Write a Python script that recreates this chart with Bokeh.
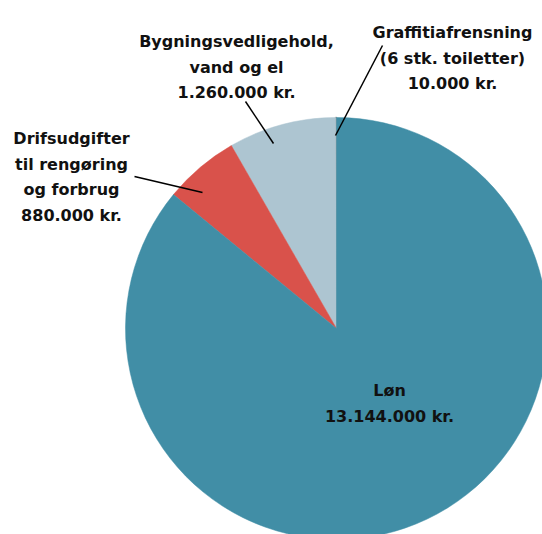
import math
from bokeh.plotting import figure
from bokeh.models import Range1d, ColumnDataSource
from bokeh.core.properties import value
from bokeh.embed import file_html
from bokeh.resources import INLINE

# ---- data ----
categories = ["Graffitiafrensning", "Bygningsvedligehold", "Drifsudgifter", "Løn"]
amounts = [10000, 1260000, 880000, 13144000]
colors = ["#a29d9b", "#adc5d1", "#d9524b", "#418ea6"]
label_lines = [
    ["Graffitiafrensning", "(6 stk. toiletter)", "10.000 kr."],
    ["Bygningsvedligehold,", "vand og el", "1.260.000 kr."],
    ["Drifsudgifter", "til rengøring", "og forbrug", "880.000 kr."],
    ["Løn", "13.144.000 kr."],
]

# ---- layout (picture pixels; y is negated) ----
W, H = 542, 534
cx, cy, R = 336, 328, 211
label_anchor = [(452, 32), (236, 41), (71, 138), (389, 390)]
line_step = 25.5
leaders = [((382, 45), (335, 135)), ((245, 101), (273, 143)), ((134, 176), (202, 192)), None]

p = figure(width=W, height=H, output_backend="svg", toolbar_location=None,
           x_range=Range1d(0, W), y_range=Range1d(-H, 0),
           min_border=0)
p.axis.visible = False
p.grid.visible = False
p.outline_line_color = None
p.background_fill_color = "white"

total = float(sum(amounts))
starts, ends = [], []
a = math.pi / 2
for v in amounts:
    starts.append(a)
    a += v / total * 2 * math.pi
    ends.append(a)

src = ColumnDataSource(dict(start=starts, end=ends, color=colors, cat=categories,
                            lw=[1.6, 0.5, 0.5, 0.5]))
p.wedge(x=cx, y=-cy, radius=R, radius_units="screen", start_angle="start", end_angle="end",
        fill_color="color", line_color="color", line_width="lw", source=src)

for ld in leaders:
    if ld is None:
        continue
    (x0, y0), (x1, y1) = ld
    p.line([x0, x1], [-y0, -y1], line_color="black", line_width=1.5)

tx, ty, tt = [], [], []
for lines, (ax, ay) in zip(label_lines, label_anchor):
    for i, t in enumerate(lines):
        tx.append(ax)
        ty.append(-(ay + i * line_step))
        tt.append(t)
p.text(x=tx, y=ty, text=tt, text_align="center", text_baseline="alphabetic",
       text_font=value("DejaVu Sans"), text_font_style="bold", text_font_size="16px",
       text_color="#111111")

open("out.html", "w").write(file_html(p, INLINE))
